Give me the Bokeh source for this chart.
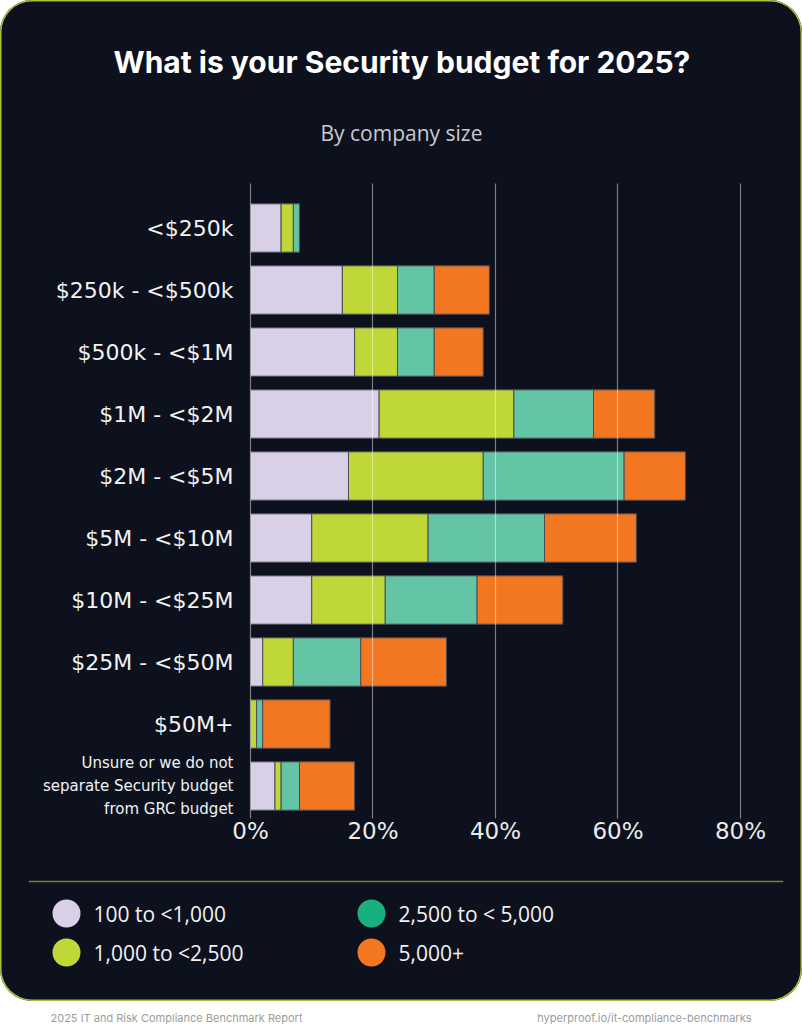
from bokeh.plotting import figure
from bokeh.models import (Range1d, FixedTicker, PrintfTickFormatter, Title, ColumnDataSource,
                          Span, Label)
from bokeh.layouts import column
from bokeh.embed import file_html
from bokeh.resources import INLINE
from bokeh.core.properties import value

# ---------------- data ----------------
categories = ["<$250k", "$250k - <$500k", "$500k - <$1M", "$1M - <$2M", "$2M - <$5M",
              "$5M - <$10M", "$10M - <$25M", "$25M - <$50M", "$50M+",
              "Unsure or we do not\nseparate Security budget\nfrom GRC budget"]
series = ["100 to <1,000", "1,000 to <2,500", "2,500 to < 5,000", "5,000+"]
s_100_to_1000 = [5, 15, 17, 21, 16, 10, 10, 2, 0, 4]
s_1000_to_2500 = [2, 9, 7, 22, 22, 19, 12, 5, 1, 1]
s_2500_to_5000 = [1, 6, 6, 13, 23, 19, 15, 11, 1, 3]
s_5000_plus = [0, 9, 8, 10, 10, 15, 14, 14, 11, 9]
x_ticks = [0, 20, 40, 60, 80]

# ---------------- styles ----------------
BG = "#0d111e"
bar_colors = ["#d9d0e7", "#bfd837", "#64c4a6", "#f37721"]
legend_colors = ["#d9d0e7", "#bfd837", "#17b07e", "#f37721"]
LABEL_FONT = "DejaVu Sans"
LEGEND_FONT = "Open Sans"
TITLE_FONT = "Inter"

W = 802
MAIN_H = 862
LEG_H = 139
FOOT_H = 23

keys = ["s1", "s2", "s3", "s4"]
n = len(categories)
src = ColumnDataSource(dict(y=list(range(n)), s1=s_100_to_1000, s2=s_1000_to_2500,
                            s3=s_2500_to_5000, s4=s_5000_plus))

# frame starts at x=20 px; the x range extends left of 0 so that the category
# labels sit inside the frame while 0% stays at x=250 px
p = figure(width=W, height=MAIN_H, output_backend="svg", toolbar_location=None,
           x_range=Range1d(-37.55, 81.96), y_range=Range1d(9.524, -0.718),
           y_axis_location=None, title=None,
           min_border_left=20, min_border_right=50, min_border_top=183, min_border_bottom=44)
p.frame_align = False
p.background_fill_alpha = 0
p.border_fill_alpha = 0
p.outline_line_color = None

p.hbar_stack(keys, y="y", height=0.78, color=bar_colors, source=src,
             line_color="#4a4c58", line_width=1)

p.xaxis.ticker = FixedTicker(ticks=x_ticks)
p.xaxis.formatter = PrintfTickFormatter(format="%d%%")
p.xaxis.axis_line_color = None
p.xaxis.major_tick_line_color = None
p.xaxis.minor_tick_line_color = None
p.xaxis.major_label_text_color = "#ebebeb"
p.xaxis.major_label_text_font = LABEL_FONT
p.xaxis.major_label_text_font_size = "23px"
p.xaxis.major_label_standoff = -7

p.xgrid.ticker = FixedTicker(ticks=x_ticks)
p.xgrid.grid_line_color = "white"
p.xgrid.grid_line_alpha = 0.45
p.xgrid.grid_line_width = 1.2
p.xgrid.level = "overlay"
p.ygrid.visible = False

# category labels
for i, cat in enumerate(categories):
    multi = "\n" in cat
    p.add_layout(Label(x=0, y=i, text=cat, x_offset=-17, text_align="right",
                       text_baseline="middle", text_font=LABEL_FONT,
                       text_font_size="15px" if multi else "22px",
                       text_line_height=1.3, text_color="#f2f2f2"))

sub = Title(text="By company size", align="left", offset=300, text_font=LEGEND_FONT,
            text_font_size="21px", text_font_style="normal", text_color="#c9c9cf", standoff=74)
p.add_layout(sub, "above")
main_t = Title(text="What is your Security budget for 2025?", align="left", offset=93,
               text_font=TITLE_FONT, text_font_size="30px", text_font_style="bold",
               text_color="white", standoff=0, text_line_height=1.6)
p.add_layout(main_t, "above")

# ---------------- legend ----------------
lg = figure(width=W, height=LEG_H, output_backend="svg", toolbar_location=None,
            x_range=Range1d(-0.1246, 2.3508), y_range=Range1d(2.2564, -1.3077),
            x_axis_location=None, y_axis_location=None,
            min_border_left=28, min_border_right=19, min_border_top=0, min_border_bottom=0)
lg.frame_align = False
lg.background_fill_alpha = 0
lg.border_fill_alpha = 0
lg.outline_line_color = None
lg.xgrid.visible = False
lg.ygrid.visible = False
lg.add_layout(Span(location=-0.8205, dimension="width", line_color="#6c8326", line_width=1.5))
leg_src = ColumnDataSource(dict(col=[i // 2 for i in range(len(series))],
                                row=[i % 2 for i in range(len(series))],
                                name=series, color=legend_colors))
lg.scatter(x="col", y="row", source=leg_src, size=28, marker="circle", color="color", line_color=None)
lg.text(x="col", y="row", text="name", source=leg_src, x_offset=27, text_baseline="middle",
        text_font=value(LEGEND_FONT), text_font_size="21px", text_color="#f2f2f2")

card = column(p, lg, styles={"background-color": BG, "border-radius": "32px",
                             "box-shadow": "inset 0 0 0 1.5px #a9c33a"})

# ---------------- footer ----------------
ft = figure(width=W, height=FOOT_H, output_backend="svg", toolbar_location=None,
            x_range=Range1d(0, W), y_range=Range1d(0, FOOT_H),
            x_axis_location=None, y_axis_location=None,
            min_border_left=0, min_border_right=0, min_border_top=0, min_border_bottom=0)
ft.frame_align = False
ft.outline_line_color = None
ft.xgrid.visible = False
ft.ygrid.visible = False
ft.add_layout(Label(x=50, y=7, text="2025 IT and Risk Compliance Benchmark Report",
                    text_baseline="middle", text_font=TITLE_FONT, text_font_size="11px",
                    text_color="#9c9c9c"))
ft.add_layout(Label(x=751, y=7, text="hyperproof.io/it-compliance-benchmarks", text_align="right",
                    text_baseline="middle", text_font=TITLE_FONT, text_font_size="11px",
                    text_color="#9c9c9c"))

page = column(card, ft)
open("out.html", "w").write(file_html(page, INLINE))
